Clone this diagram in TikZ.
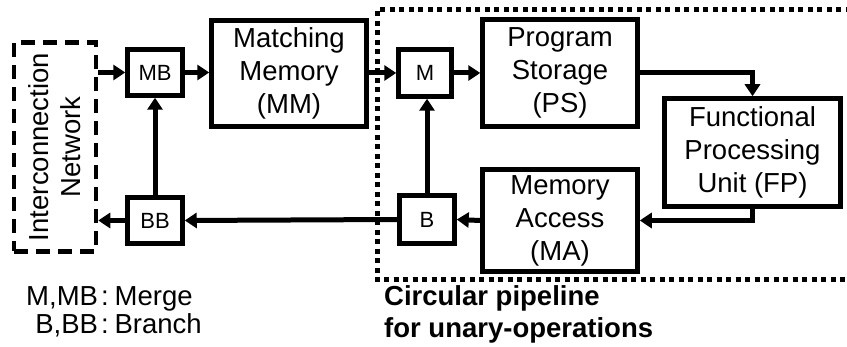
\documentclass[tikz,border=0pt]{standalone}
\usepackage{fontspec}
\setmainfont{Liberation Sans}
\usetikzlibrary{arrows.meta}
\tikzset{
  blk/.style={draw=black, line width=4.5pt, inner sep=0pt, align=center,
    font=\fontsize{27.5}{33}\selectfont},
  small/.style={blk, font=\fontsize{22}{26}\selectfont},
  arr/.style={line width=5pt, -{Triangle[length=12pt,width=15pt]}},
}
\begin{document}
\begin{tikzpicture}[x=1pt,y=-1pt]
\useasboundingbox (0,0) rectangle (847,347);
\begin{scope}
\clip (0,0) rectangle (847,347);
\draw[line width=5pt, dash pattern=on 5pt off 4.5pt] (860,10) -- (377,10) -- (377,280) -- (860,280);
\end{scope}
% nodes
\node[blk, dash pattern=on 14pt off 8pt, minimum width=82pt, minimum height=209pt] (IN) at (55,147) {};
\node[rotate=90, align=center, font=\fontsize{27.5}{32}\selectfont] (INt) at (IN.center) {Interconnection\\Network};
\node[small, minimum width=55pt, minimum height=46pt] (MB) at (155,72.5) {MB};
\node[blk, minimum width=155pt, minimum height=106pt] (MM) at (289,73.5) {Matching\\Memory\\(MM)};
\node[small, minimum width=53pt, minimum height=47pt] (M) at (425,73) {M};
\node[blk, minimum width=155pt, minimum height=107pt] (PS) at (560,73) {Program\\Storage\\(PS)};
\node[blk, minimum width=176pt, minimum height=108pt] (FP) at (752.5,152.5) {Functional\\Processing\\Unit (FP)};
\node[blk, minimum width=155pt, minimum height=102pt] (MA) at (560,220.5) {Memory\\Access\\(MA)};
\node[small, minimum width=55pt, minimum height=48pt] (B) at (427,219.5) {B};
\node[small, minimum width=55pt, minimum height=46pt] (BB) at (155,220.5) {BB};
% connectors
\draw[arr] (IN.east |- MB.west) -- (MB.west);
\draw[arr] (MB.east) -- (MM.west |- MB.east);
\draw[arr] (MM.east |- M.west) -- (M.west);
\draw[arr] (M.east) -- (PS.west |- M.east);
\draw[arr] (PS.east) -| (FP.north);
\draw[arr] (FP.south) |- (MA.east);
\draw[arr] (MA.west) -- (B.east);
\draw[arr] (B.north) -- (B.north |- M.south);
\draw[arr] (B.west) -- (BB.east);
\draw[arr] (BB.north) -- (MB.south);
\draw[arr] (BB.west) -- (IN.east |- BB.west);
% texts
\node[font=\fontsize{27.5}{28}\selectfont, inner sep=0pt] (leg) at (114,314)
  {\begin{tabular}{@{}r@{\hspace{3pt}:\hspace{6pt}}l@{}}M,MB & Merge\\ B,BB & Branch\end{tabular}};
\node[font=\bfseries\fontsize{27.5}{32}\selectfont, align=left, anchor=west, inner sep=0pt] (cap) at (384,314)
  {Circular pipeline\\for unary-operations};
\end{tikzpicture}
\end{document}
